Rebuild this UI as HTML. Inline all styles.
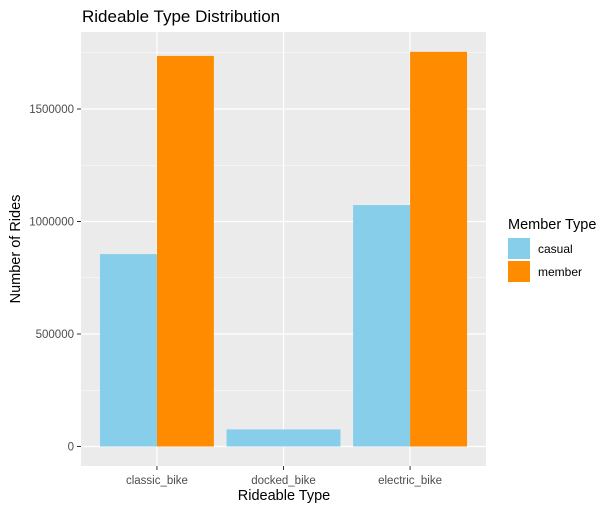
<!DOCTYPE html>
<html><head><meta charset="utf-8"><style>
body{margin:0;background:#fff;}
svg text{font-family:"Liberation Sans",Arial,sans-serif;}
</style></head><body>
<svg width="612" height="511" viewBox="0 0 612 511" xmlns="http://www.w3.org/2000/svg">
<rect width="612" height="511" fill="#fff"/>
<text x="82" y="22" font-size="17" fill="#000">Rideable Type Distribution</text>
<rect x="81" y="32" width="405" height="434" fill="#ebebeb"/>
<g id="grid"></g>
<g id="bars"></g>
<g id="axes"></g>
<text x="284" y="500" font-size="14.5" text-anchor="middle" fill="#000">Rideable Type</text>
<text transform="translate(20,249) rotate(-90)" font-size="14.5" text-anchor="middle" fill="#000">Number of Rides</text>
<g>
<text x="508" y="229" font-size="14.5" fill="#000">Member Type</text>
<rect x="508" y="238" width="22" height="21" fill="#87ceeb"/>
<text x="538" y="253" font-size="12" fill="#000">casual</text>
<rect x="508" y="261" width="22" height="21" fill="#ff8c00"/>
<text x="538" y="276" font-size="12" fill="#000">member</text>
</g>
</svg>
<script>
const categories = ["classic_bike","docked_bike","electric_bike"];
const casualValues = [855000, 76000, 1073000];
const memberValues = [1736000, 0, 1754000];
const yTicks = [0, 500000, 1000000, 1500000];
const yTickLabels = ["0","500000","1000000","1500000"];

const NS="http://www.w3.org/2000/svg";
const x0=81, x1=486, yTop=32, yBot=466;
const zeroY=446.5, pxPerUnit=225/1000000;
function y(v){return zeroY - v*pxPerUnit;}
const band=(x1-x0)/(categories.length-1+1.2);
function xc(i){return x0 + band*(i+0.6);}
const barW=band*0.9;
function mk(tag,attrs,parent){const e=document.createElementNS(NS,tag);for(const k in attrs)e.setAttribute(k,attrs[k]);parent.appendChild(e);return e;}
const grid=document.getElementById('grid'), bars=document.getElementById('bars'), axes=document.getElementById('axes');
for(let i=0;i<yTicks.length;i++){
  const mv=yTicks[i]+250000; const my=y(mv);
  if(my>yTop){const l=mk('line',{x1:x0,x2:x1,y1:my,y2:my,stroke:'#fff','stroke-width':0.6},grid);
  
  }
}
yTicks.forEach((v,i)=>{
  const yy=y(v);
  const l=mk('line',{x1:x0,x2:x1,y1:yy,y2:yy,stroke:'#fff','stroke-width':1.2},grid);
  
  
  const t=mk('line',{x1:77,x2:81,y1:yy,y2:yy,stroke:'#333','stroke-width':1},axes);
  
  
  const tx=mk('text',{x:74,y:yy+4,'font-size':11.5,'text-anchor':'end',fill:'#4d4d4d'},axes);
  tx.textContent=yTickLabels[i];
  
  
});
categories.forEach((c,i)=>{
  const cx=xc(i);
  const l=mk('line',{x1:cx,x2:cx,y1:yTop,y2:yBot,stroke:'#fff','stroke-width':1.2},grid);
  
  
  const t=mk('line',{x1:cx,x2:cx,y1:yBot,y2:yBot+4,stroke:'#333','stroke-width':1},axes);
  
  
  const tx=mk('text',{x:cx,y:484,'font-size':11.5,'text-anchor':'middle',fill:'#4d4d4d'},axes);
  tx.textContent=c;
  
  
  const hasMember=memberValues[i]>0;
  if(hasMember){
    const b1=mk('rect',{x:cx-barW/2,y:y(casualValues[i]),width:barW/2,height:zeroY-y(casualValues[i]),fill:'#87ceeb'},bars);
    
    
    const b2=mk('rect',{x:cx,y:y(memberValues[i]),width:barW/2,height:zeroY-y(memberValues[i]),fill:'#ff8c00'},bars);
    
    
  } else {
    const b1=mk('rect',{x:cx-barW/2,y:y(casualValues[i]),width:barW,height:zeroY-y(casualValues[i]),fill:'#87ceeb'},bars);
    
    
  }
});
</script>
</body></html>
